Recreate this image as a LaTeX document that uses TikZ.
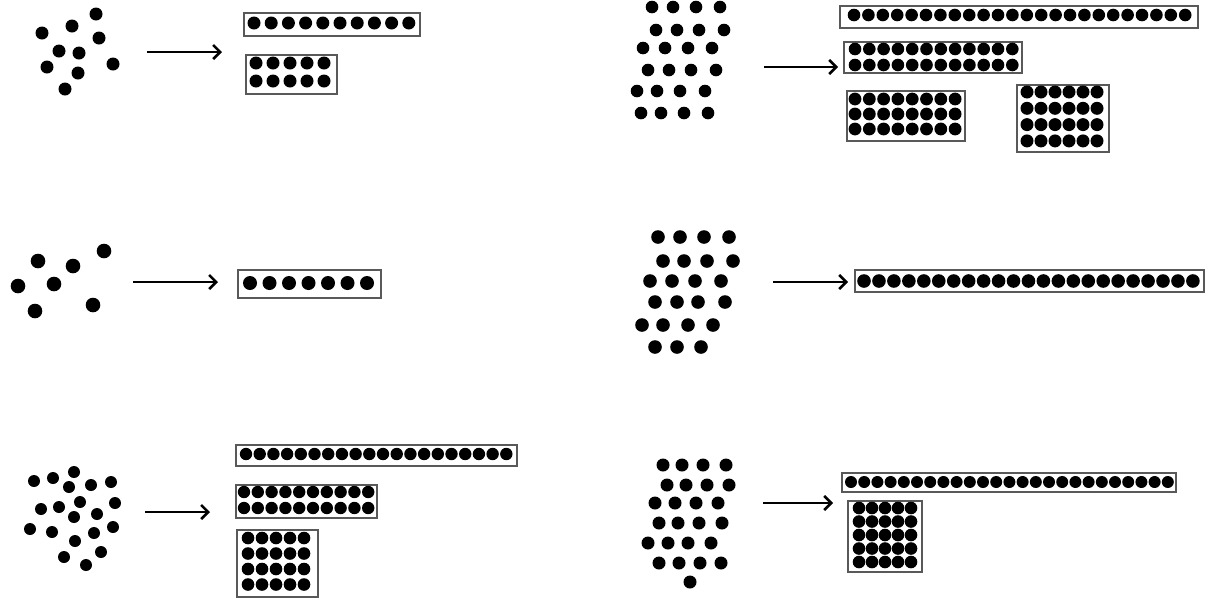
\documentclass[tikz,border=0pt]{standalone}
\usetikzlibrary{arrows.meta}

% row/column grid of dots inside a box: x0, y0, last col, last row, dx, dy, radius
\newcommand{\dotgrid}[7]{%
  \foreach \c in {0,...,#3}
    \foreach \r in {0,...,#4}
      \fill (#1+\c*#5, #2+\r*#6) circle (#7);%
}

\begin{document}
\begin{tikzpicture}[x=1pt, y=-1pt,
        frame/.style={draw=black!65, line width=1.7pt, fill=white, inner sep=0pt, anchor=north west},
        arr/.style={-{Straight Barb[length=7pt,width=14pt,line width=2.6pt]}, line width=2.8pt}
    ]
        \useasboundingbox (0,0) rectangle (1206,598);

        % Ten
        \foreach \x/\y in {96/14, 72/26, 42/33, 99/38, 59/51, 79/53, 47/67, 113/64, 78/73, 65/89}
            \fill (\x,\y) circle (6.5pt);
        \coordinate (t1) at (147,52);
        \coordinate (h1) at (222,52);
        \draw[arr] (t1) -- (h1);
        \node[frame, minimum width=176pt, minimum height=23pt] (ten1) at (243,12) {};
        \node[frame, minimum width=91pt, minimum height=39pt] (ten2) at (245,54) {};
        \dotgrid{254}{23}{9}{0}{17.2}{0}{6.5pt}
        \dotgrid{256}{63}{4}{1}{17}{18}{6.5pt}

        % Seven
        \foreach \x/\y in {38/261, 73/266, 104/251, 18/286, 54/284, 35/311, 93/305}
            \fill (\x,\y) circle (7.3pt);
        \coordinate (t3) at (133,282);
        \coordinate (h3) at (218,282);
        \draw[arr] (t3) -- (h3);
        \node[frame, minimum width=143pt, minimum height=28pt] (seven1) at (237,269) {};
        \dotgrid{250}{283}{6}{0}{19.5}{0}{7pt}

        % Twenty
        \foreach \x/\y in {34/481, 53/478, 74/472, 69/487, 91/485, 111/482, 41/509, 59/507,
                           80/502, 115/503, 74/517, 97/514, 30/529, 52/532, 94/533, 113/527,
                           75/541, 64/557, 101/552, 86/565}
            \fill (\x,\y) circle (6pt);
        \coordinate (t5) at (145,512);
        \coordinate (h5) at (210,512);
        \draw[arr] (t5) -- (h5);
        \node[frame, minimum width=281pt, minimum height=21pt] (twenty1) at (235,444) {};
        \node[frame, minimum width=141pt, minimum height=33pt] (twenty2) at (235,484) {};
        \node[frame, minimum width=81pt, minimum height=67pt] (twenty4) at (236,529) {};
        \dotgrid{246}{454}{19}{0}{13.7}{0}{6.2pt}
        \dotgrid{244}{492}{9}{1}{13.8}{16}{6.2pt}
        \dotgrid{248}{538}{4}{3}{14}{15.5}{6.3pt}

        % Twenty-four
        \foreach \x/\y in {652/7, 673/7, 696/7, 720/7, 656/30, 677/30, 699/30, 724/30,
                           643/48, 665/48, 688/48, 712/48, 648/70, 669/70, 691/70, 716/70,
                           637/91, 657/91, 680/91, 705/91, 641/113, 661/113, 684/113, 708/113}
            \fill (\x,\y) circle (6.3pt);
        \coordinate (t2) at (764,67);
        \coordinate (h2) at (838,67);
        \draw[arr] (t2) -- (h2);
        \node[frame, minimum width=358pt, minimum height=22pt] (tf1) at (839,5) {};
        \node[frame, minimum width=178pt, minimum height=31pt] (tf2) at (843,41) {};
        \node[frame, minimum width=118pt, minimum height=50pt] (tf3) at (846,90) {};
        \node[frame, minimum width=92pt, minimum height=67pt] (tf4) at (1016,84) {};
        \dotgrid{854}{15}{23}{0}{14.4}{0}{6.3pt}
        \dotgrid{855}{49}{11}{1}{14.3}{16}{6.3pt}
        \dotgrid{855}{99}{7}{2}{14.3}{15}{6.4pt}
        \dotgrid{1027}{92}{5}{3}{14}{16.3}{6.5pt}

        % Twenty-three
        \foreach \x/\y in {658/237, 680/237, 704/237, 729/237, 663/261, 684/261, 707/261, 733/261,
                           650/281, 672/281, 695/281, 721/281, 655/302, 677/302, 698/302, 725/302,
                           642/325, 663/325, 688/325, 713/325, 655/347, 677/347, 701/347}
            \fill (\x,\y) circle (6.8pt);
        \coordinate (t4) at (773,282);
        \coordinate (h4) at (848,282);
        \draw[arr] (t4) -- (h4);
        \node[frame, minimum width=349pt, minimum height=22pt] (tt1) at (854,269) {};
        \dotgrid{864}{281}{22}{0}{14.95}{0}{6.8pt}

        % Twenty-five
        \foreach \x/\y in {663/465, 682/465, 703/465, 726/465, 667/485, 686/485, 707/485, 729/485,
                           655/503, 675/503, 696/503, 718/503, 659/523, 678/523, 699/523, 722/523,
                           648/543, 668/543, 688/543, 711/543, 659/563, 679/563, 700/563, 721/563,
                           690/582}
            \fill (\x,\y) circle (6.5pt);
        \coordinate (t6) at (763,503);
        \coordinate (h6) at (833,503);
        \draw[arr] (t6) -- (h6);
        \node[frame, minimum width=334pt, minimum height=19pt] (tv1) at (841,472) {};
        \node[frame, minimum width=74pt, minimum height=71pt] (tv5) at (847,500) {};
        \dotgrid{851}{482}{24}{0}{13.2}{0}{6pt}
        \dotgrid{859}{508}{4}{4}{13}{13.5}{6.3pt}
    \end{tikzpicture}
\end{document}
